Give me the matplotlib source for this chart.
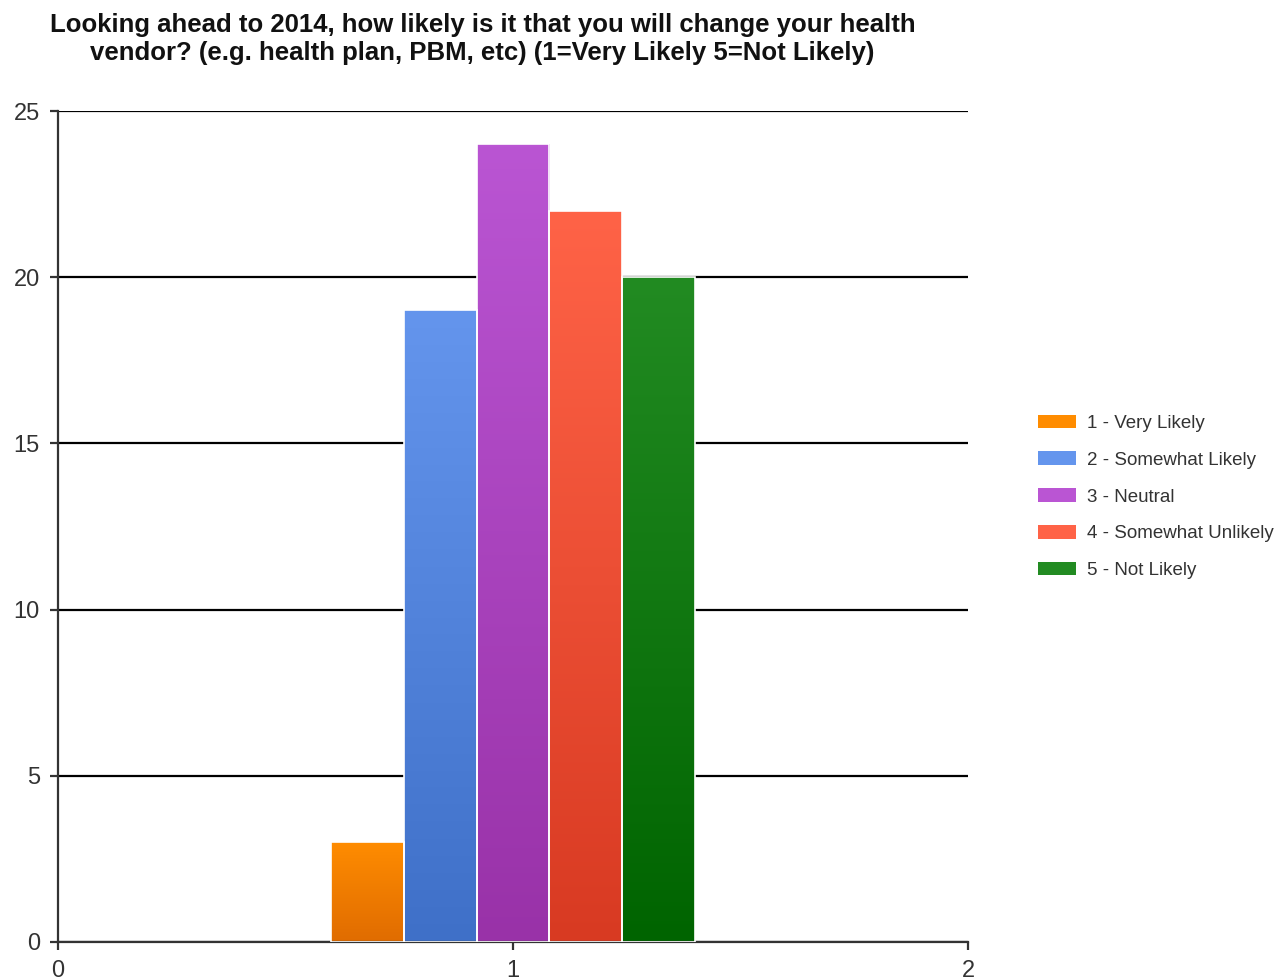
import numpy as np
import matplotlib.pyplot as plt
from matplotlib.colors import LinearSegmentedColormap
from matplotlib.patches import Patch

plt.rcParams['font.family'] = ['Liberation Sans', 'DejaVu Sans']

# 调查结果
categories = ['1 - Very Likely', '2 - Somewhat Likely', '3 - Neutral',
              '4 - Somewhat Unlikely', '5 - Not Likely']
counts = [3, 19, 24, 22, 20]
top_colors = ['#FF8C00', '#6495ED', '#BA55D3', '#FF6347', '#228B22']
bottom_colors = ['#E06C00', '#3F70C8', '#9932A8', '#D83A22', '#006400']
x_ticks = [0, 1, 2]
y_ticks = [0, 5, 10, 15, 20, 25]

fig = plt.figure(figsize=(12.83, 9.8), dpi=100)
ax = fig.add_axes([0.0452, 0.0388, 0.7093, 0.8479])

width = 0.16
offsets = (np.arange(len(counts)) - 2) * width
bars = ax.bar(1 + offsets, counts, width=width, color='none',
              edgecolor='white', linewidth=1.2, zorder=3)

# 每根柱子画一个上浅下深的渐变
grad = np.linspace(0, 1, 256).reshape(-1, 1)
for bar, c_top, c_bot in zip(bars, top_colors, bottom_colors):
    cmap = LinearSegmentedColormap.from_list('g', [c_bot, c_top])
    x0, h = bar.get_x(), bar.get_height()
    im = ax.imshow(grad, cmap=cmap, origin='lower', aspect='auto',
                   extent=(x0, x0 + bar.get_width(), 0, h), zorder=2)
    im.set_clip_path(bar)

ax.set_xlim(0, 2)
ax.set_ylim(0, 25)
ax.set_xticks(x_ticks)
ax.set_yticks(y_ticks)
ax.yaxis.grid(True, color='black', linewidth=1.6, zorder=1)
ax.set_axisbelow(True)
ax.spines['top'].set_visible(False)
ax.spines['right'].set_visible(False)
for s in ('left', 'bottom'):
    ax.spines[s].set_color('#333333')
    ax.spines[s].set_linewidth(1.6)
ax.tick_params(axis='both', length=6, width=1.6, color='#333333',
               labelsize=17, labelcolor='#333333', pad=7)

fig.text(0.376, 0.987,
         'Looking ahead to 2014, how likely is it that you will change your health\n'
         'vendor? (e.g. health plan, PBM, etc) (1=Very Likely 5=Not Likely)',
         ha='center', va='top', fontsize=18.5, fontweight='bold',
         linespacing=1.25, color='#111111')

handles = [Patch(facecolor=c, edgecolor='none') for c in top_colors]
fig.legend(handles, categories, loc='center left', bbox_to_anchor=(0.796, 0.493),
           frameon=False, fontsize=13.5, handlelength=2.0, handleheight=0.75,
           labelspacing=1.03, handletextpad=0.6, labelcolor='#333333')

fig.savefig('out.png', dpi=100)
